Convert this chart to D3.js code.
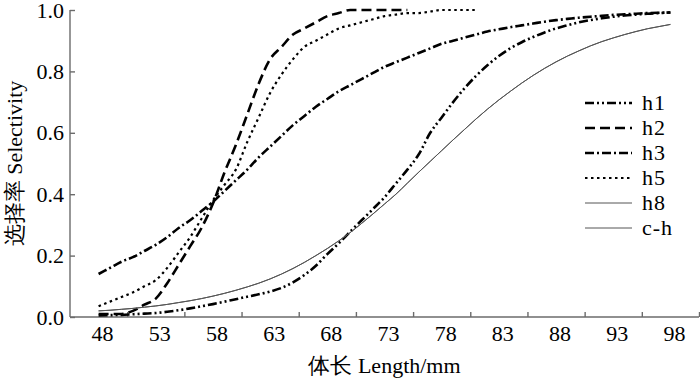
<!DOCTYPE html>
<html lang="en">
<head>
    <meta charset="utf-8">
    <title>Selectivity</title>
    <script src="https://d3js.org/d3.v7.min.js"></script>
    <style>
        body { margin: 0; background: #fff; }
        svg text { font-family: "Liberation Serif", "Times New Roman", Times, serif; fill: #000; }
    </style>
</head>
<body>

<script>
    // body length (mm), one point per mm
    const lengths = d3.range(48, 99);
    const xLabels = [48, 53, 58, 63, 68, 73, 78, 83, 88, 93, 98];
    const yTicks = [0, 0.2, 0.4, 0.6, 0.8, 1.0];

    const h1 = [0.005, 0.006, 0.007, 0.009, 0.011, 0.013, 0.017, 0.022, 0.028, 0.035,
                0.042, 0.05, 0.058, 0.066, 0.074, 0.083, 0.095, 0.113, 0.137, 0.167,
                0.205, 0.24, 0.278, 0.315, 0.352, 0.39, 0.435, 0.48, 0.53, 0.60,
                0.65, 0.70, 0.745, 0.785, 0.82, 0.85, 0.875, 0.895, 0.912, 0.927,
                0.94, 0.95, 0.96, 0.967, 0.973, 0.978, 0.982, 0.985, 0.988, 0.99, 0.992];
    const h2 = [0.01, 0.01, 0.01, 0.02, 0.04, 0.06, 0.11, 0.17, 0.23, 0.29,
                0.37, 0.47, 0.56, 0.66, 0.76, 0.84, 0.88, 0.92, 0.94, 0.96,
                0.98, 0.99, 1.0, 1.0, 1.0, 1.0, 1.0, 1.0];
    const h3 = [0.14, 0.16, 0.18, 0.195, 0.215, 0.235, 0.26, 0.29, 0.315, 0.345,
                0.375, 0.41, 0.445, 0.48, 0.52, 0.555, 0.59, 0.625, 0.655, 0.685,
                0.71, 0.735, 0.755, 0.775, 0.795, 0.815, 0.83, 0.845, 0.86, 0.875,
                0.89, 0.90, 0.91, 0.92, 0.93, 0.937, 0.944, 0.95, 0.956, 0.962,
                0.967, 0.971, 0.975, 0.978, 0.981, 0.984, 0.986, 0.988, 0.99, 0.991, 0.992];
    const h5 = [0.035, 0.05, 0.065, 0.08, 0.10, 0.12, 0.16, 0.21, 0.26, 0.32,
                0.38, 0.43, 0.48, 0.57, 0.65, 0.73, 0.79, 0.84, 0.88, 0.90,
                0.92, 0.94, 0.95, 0.96, 0.97, 0.98, 0.985, 0.99, 0.99, 0.995,
                1.0, 1.0, 1.0, 1.0];
    const h8 = [0.02, 0.022, 0.025, 0.028, 0.032, 0.036, 0.041, 0.047, 0.053, 0.06,
                0.068, 0.077, 0.087, 0.098, 0.11, 0.124, 0.14, 0.158, 0.178, 0.2,
                0.223, 0.248, 0.275, 0.305, 0.336, 0.368, 0.40, 0.436, 0.472, 0.507,
                0.542, 0.577, 0.611, 0.645, 0.677, 0.707, 0.735, 0.762, 0.787, 0.81,
                0.831, 0.85, 0.867, 0.883, 0.897, 0.909, 0.92, 0.93, 0.939, 0.946, 0.953];
    const ch = [0.02, 0.022, 0.025, 0.028, 0.032, 0.036, 0.041, 0.047, 0.053, 0.06,
                0.068, 0.077, 0.087, 0.098, 0.11, 0.124, 0.14, 0.158, 0.178, 0.2,
                0.223, 0.248, 0.275, 0.305, 0.336, 0.368, 0.40, 0.436, 0.472, 0.507,
                0.542, 0.577, 0.611, 0.645, 0.677, 0.707, 0.735, 0.762, 0.787, 0.81,
                0.831, 0.85, 0.867, 0.883, 0.897, 0.909, 0.92, 0.93, 0.939, 0.946, 0.953];

    const series = [
        {name: "h1", values: h1, dash: "9,3,2,3,2,3", width: 2.6, color: "#000"},
        {name: "h2", values: h2, dash: "10,5", width: 2.6, color: "#000"},
        {name: "h3", values: h3, dash: "9,3,2,3", width: 2.6, color: "#000"},
        {name: "h5", values: h5, dash: "2.5,3.5", width: 2.2, color: "#000"},
        {name: "h8", values: h8, dash: null, width: 1, color: "#555"},
        {name: "c-h", values: ch, dash: null, width: 1, color: "#555"}
    ];

    const W = 700, H = 378;
    const mLeft = 70, mRight = 699, mTop = 10, mBottom = 317;

    const svg = d3.select("body").append("svg").attr("width", W).attr("height", H);

    const x = d3.scaleLinear().domain([45.5, 100.5]).range([mLeft, mRight]);
    const y = d3.scaleLinear().domain([0, 1]).range([mBottom, mTop]);

    // x axis: tick marks between labels, labels centred on the lengths
    const xAxis = svg.append("g").attr("transform", `translate(0,${mBottom})`)
            .call(d3.axisBottom(x).tickValues(d3.range(50.5, 101, 5)).tickSize(-5).tickFormat(""));
    xAxis.select(".domain").attr("d", `M${mLeft},0H${mRight}`);
    xAxis.selectAll("line, path").attr("stroke", "#6b6b6b").attr("stroke-width", 1.4);

    svg.append("g").selectAll("text").data(xLabels).join("text")
            .attr("x", d => x(d) + 4).attr("y", 341)
            .attr("text-anchor", "middle").attr("font-size", 22)
            .text(d => d);

    const yAxis = svg.append("g").attr("transform", `translate(${mLeft},0)`)
            .call(d3.axisLeft(y).tickValues(yTicks).tickSize(-5).tickFormat(d3.format(".1f")).tickPadding(6));
    yAxis.attr("font-family", null);
    yAxis.select(".domain").attr("d", `M0,${mTop}V${mBottom}`);
    yAxis.selectAll("line, path").attr("stroke", "#6b6b6b").attr("stroke-width", 1.4);
    yAxis.selectAll("text").attr("font-size", 22).attr("fill", "#000");

    svg.append("text").attr("x", (mLeft + mRight) / 2).attr("y", 373)
            .attr("text-anchor", "middle").attr("font-size", 22)
            .text("体长 Length/mm");

    svg.append("text").attr("transform", `translate(22,${(mTop + mBottom) / 2}) rotate(-90)`)
            .attr("text-anchor", "middle").attr("font-size", 22)
            .text("选择率 Selectivity");

    const line = d3.line()
            .x((d, i) => x(lengths[i]))
            .y(d => y(d))
            .curve(d3.curveMonotoneX);

    svg.append("g").selectAll("path").data(series).join("path")
            .attr("d", d => line(d.values))
            .attr("fill", "none")
            .attr("stroke", d => d.color)
            .attr("stroke-width", d => d.width)
            .attr("stroke-dasharray", d => d.dash);

    // legend
    const legend = svg.append("g").selectAll("g").data(series).join("g")
            .attr("transform", (d, i) => `translate(585,${103 + i * 25})`);
    legend.append("line").attr("x1", 0).attr("x2", 47)
            .attr("stroke", d => d.color)
            .attr("stroke-width", d => d.width)
            .attr("stroke-dasharray", d => d.dash);
    legend.append("text").attr("x", 57).attr("y", 7).attr("font-size", 22)
            .attr("letter-spacing", 1)
            .text(d => d.name);
</script>

</body>
</html>
